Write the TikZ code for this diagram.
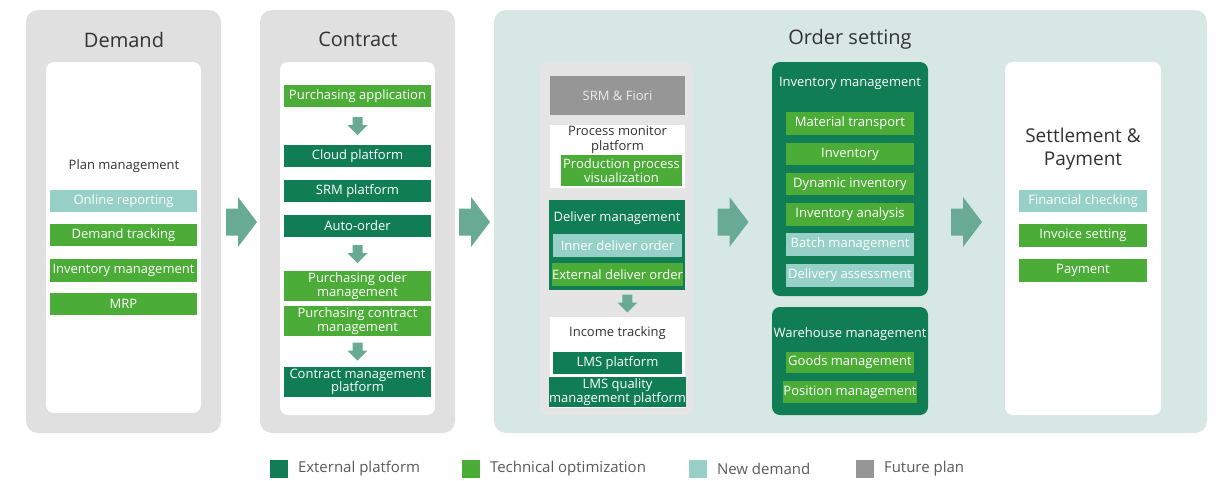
\documentclass[tikz,border=0pt]{standalone}
\usepackage{fontspec}
\setmainfont{Open Sans}
\usetikzlibrary{calc}
\definecolor{darkg}{RGB}{16,125,84}
\definecolor{lightg}{RGB}{76,172,56}
\definecolor{tealc}{RGB}{150,208,198}
\definecolor{futg}{RGB}{150,150,150}
\definecolor{panelgray}{RGB}{224,224,224}
\definecolor{orderpanel}{RGB}{215,232,228}
\definecolor{arrowc}{RGB}{104,170,148}
\definecolor{txt}{RGB}{50,50,50}
\definecolor{legtxt}{RGB}{90,90,90}
\newcommand\rarrowat[1]{\fill[arrowc] #1 ++(-15.5,-13.5) -- ++(12,0) -- ++(0,-11.5) -- ++(19,25) -- ++(-19,25) -- ++(0,-11.5) -- ++(-12,0) -- cycle;}
\newcommand\darrowat[1]{\fill[arrowc] #1 ++(-5,-9) -- ++(10,0) -- ++(0,8) -- ++(5,0) -- ++(-10,10) -- ++(-10,-10) -- ++(5,0) -- cycle;}
\begin{document}
\begin{tikzpicture}[x=1pt,y=-1pt,
  every node/.style={inner sep=0pt, outer sep=0pt},
  panel/.style={fill=panelgray, rounded corners=12pt},
  opanel/.style={fill=orderpanel, rounded corners=12pt},
  whitebox/.style={fill=white, rounded corners=8pt},
  greybox/.style={fill=panelgray!85!white, rounded corners=8pt},
  plainwhite/.style={fill=white},
  darkbox/.style={fill=darkg, rounded corners=8pt},
  title/.style={text=txt, font=\fontsize{20}{24}\selectfont, yshift=-1.5pt},
  subtitle/.style={text=txt, font=\fontsize{13}{14.5}\selectfont, align=center},
  bx/.style={text=white, font=\fontsize{13}{13.5}\selectfont, align=center, minimum height=22pt},
  ext/.style={bx, fill=darkg},
  tech/.style={bx, fill=lightg},
  newd/.style={bx, fill=tealc},
  fut/.style={bx, fill=futg, text=white!92!black},
  legsq/.style={minimum width=18pt, minimum height=18pt},
  legtext/.style={text=legtxt, font=\fontsize{15}{18}\selectfont, anchor=west}
]
\useasboundingbox (0,0) rectangle (1218,480);

% ---------------- Demand ----------------
\node[panel, minimum width=195pt, minimum height=423pt] (demand) at (123.5,221.5) {};
\node[title] (demandt) at (124,38) {Demand};
\node[whitebox, minimum width=155pt, minimum height=351pt] (demandin) at (123.5,237.5) {};
\node[subtitle] (planm) at (124,166) {Plan management};
\node[newd, minimum width=147pt] (online) at (123.5,201) {Online reporting};
\node[tech, minimum width=147pt] (dtrack) at (123.5,235) {Demand tracking};
\node[tech, minimum width=147pt, minimum height=23pt] (invm) at (123.5,270.5) {Inventory management};
\node[tech, minimum width=147pt] (mrp) at (123.5,304) {MRP};

% ---------------- Contract ----------------
\node[panel, minimum width=195pt, minimum height=423pt] (contract) at (357.5,221.5) {};
\node[title] (contractt) at (358,38) {Contract};
\node[whitebox, minimum width=155pt, minimum height=353pt] (contractin) at (357.5,238.5) {};
\node[tech, minimum width=147pt] (papp) at (357.5,96) {Purchasing application};
\node[ext, minimum width=147pt] (cloud) at (357.5,156) {Cloud platform};
\node[ext, minimum width=147pt] (srm) at (357.5,191) {SRM platform};
\node[ext, minimum width=147pt] (auto) at (357.5,226) {Auto-order};
\node[tech, minimum width=147pt, minimum height=30pt] (pom) at (357.5,286) {Purchasing oder\\management};
\node[tech, minimum width=147pt, minimum height=30pt] (pcm) at (357.5,321) {Purchasing contract\\management};
\node[ext, minimum width=147pt, minimum height=30pt] (cmp) at (357.5,382) {Contract management\\platform};
\darrowat{($(papp.south)!0.5!(cloud.north)$)}
\darrowat{($(auto.south)!0.5!(pom.north)$)}
\darrowat{($(pcm.south)!0.5!(cmp.north)$)}

% ---------------- Order setting ----------------
\node[opanel, minimum width=713pt, minimum height=423pt] (order) at (850.5,221.5) {};
\node[title] (ordert) at (850,38) {Order setting};

% left column
\node[greybox, minimum width=153pt, minimum height=353pt] (leftcol) at (616.5,238.5) {};
\node[fut, minimum width=135pt, minimum height=39pt] (fiori) at (617.5,95.5) {SRM \& Fiori};
\node[plainwhite, minimum width=135pt, minimum height=63pt] (pmp) at (617.5,156.5) {};
\node[subtitle] (pmpt) at (617.5,140) {Process monitor\\platform};
\node[tech, minimum width=121pt, minimum height=31pt] (ppv) at (621.5,170.5) {Production process\\visualization};
\node[fill=darkg, minimum width=136pt, minimum height=90pt] (deliver) at (617,245) {};
\node[text=white, font=\fontsize{13}{15}\selectfont] (delivert) at (617,218) {Deliver management};
\node[newd, minimum width=129pt, minimum height=23pt] (inner) at (617.5,245.5) {Inner deliver order};
\node[tech, minimum width=129pt, minimum height=23pt] (external) at (617.5,274.5) {External deliver order};
\node[plainwhite, minimum width=135pt, minimum height=91pt] (income) at (617.5,362.5) {};
\node[subtitle] (incomet) at (617.5,333) {Income tracking};
\node[ext, minimum width=129pt] (lms) at (617.5,363) {LMS platform};
\node[ext, minimum width=129pt, minimum height=30pt] (lmsq) at (617.5,392) {LMS quality\\management platform};
\darrowat{($(deliver.south)!0.5!(income.north)+(10,0)$)}

% middle column
\node[darkbox, minimum width=156pt, minimum height=234pt] (invbox) at (850,179) {};
\node[text=white, font=\fontsize{13}{15}\selectfont] (invt) at (850,83) {Inventory management};
\node[tech, minimum width=128pt, minimum height=23pt] (mtrans) at (850,123.5) {Material transport};
\node[tech, minimum width=128pt] (inv) at (850,154) {Inventory};
\node[tech, minimum width=128pt] (dyn) at (850,184) {Dynamic inventory};
\node[tech, minimum width=128pt, minimum height=23pt] (ana) at (850,214.5) {Inventory analysis};
\node[newd, minimum width=128pt, minimum height=23pt] (batch) at (850,244.5) {Batch management};
\node[newd, minimum width=128pt, minimum height=23pt] (dass) at (850,275.5) {Delivery assessment};
\node[darkbox, minimum width=156pt, minimum height=108pt] (whbox) at (850,361) {};
\node[text=white, font=\fontsize{13}{15}\selectfont] (wht) at (850,334) {Warehouse management};
\node[tech, minimum width=128pt, minimum height=21pt] (goods) at (850,362.5) {Goods management};
\node[tech, minimum width=128pt] (pos) at (850,392) {Position management};

% settlement
\node[whitebox, minimum width=156pt, minimum height=353pt] (settle) at (1083,238.5) {};
\node[text=txt, font=\fontsize{19}{23}\selectfont, align=center] (settlet) at (1083,149) {Settlement \&\\Payment};
\node[newd, minimum width=128pt] (fin) at (1083,201) {Financial checking};
\node[tech, minimum width=128pt, minimum height=23pt] (invoice) at (1083,235.5) {Invoice setting};
\node[tech, minimum width=128pt, minimum height=23pt] (pay) at (1083,270.5) {Payment};

% big arrows between stages
\rarrowat{($(demand.east)!0.5!(contract.west)+(1,0.5)$)}
\rarrowat{($(contract.east)!0.5!(order.west)+(0,0.5)$)}
\rarrowat{($(leftcol.east)!0.5!(invbox.west)+(0.5,13.25)$)}
\rarrowat{($(invbox.east)!0.5!(settle.west)+(0,13.25)$)}

% legend
\node[legsq, fill=darkg] (l1) at (279,469) {};
\node[legtext] (l1t) at (298,469) {External platform};
\node[legsq, fill=lightg] (l2) at (471,469) {};
\node[legtext] (l2t) at (490,469) {Technical optimization};
\node[legsq, fill=tealc] (l3) at (698,469) {};
\node[legtext] (l3t) at (717,469) {New demand};
\node[legsq, fill=futg] (l4) at (865,469) {};
\node[legtext] (l4t) at (884,469) {Future plan};
\end{tikzpicture}
\end{document}
